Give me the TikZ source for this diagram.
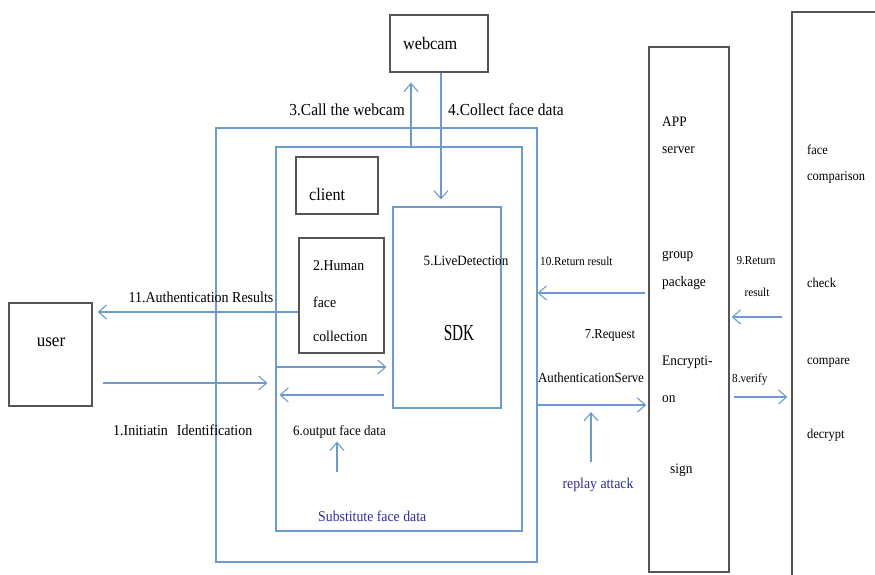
\documentclass[tikz,border=0pt]{standalone}
\usepackage{fontspec}
\setmainfont{Liberation Serif}[FakeStretch=0.92]
\usetikzlibrary{arrows.meta,calc}
\definecolor{lblue}{RGB}{110,155,205}
\definecolor{bgray}{RGB}{85,85,85}
\definecolor{tblue}{RGB}{45,45,165}
\newcommand{\fsz}[1]{\fontsize{#1}{#1}\selectfont}
\tikzset{
  gbox/.style={draw=bgray,line width=1.4pt,inner sep=0pt},
  bbox/.style={draw=lblue,line width=1.1pt,inner sep=0pt},
  arr/.style={draw=lblue,line width=1.1pt,-{Straight Barb[length=8pt,width=14pt]}},
  lbl/.style={inner sep=0pt,text=black,font=\fsz{16.8}},
  mid/.style={inner sep=0pt,text=black,font=\fsz{14.5}},
  sml/.style={inner sep=0pt,text=black,font=\fsz{12.2}},
  blu/.style={inner sep=0pt,text=tblue,font=\fsz{15}},
}
\begin{document}
\begin{tikzpicture}[x=1pt,y=-1pt]
\path[use as bounding box,clip] (0,0) rectangle (875,574);
\fill[white] (0,0) rectangle (875,574);
% boxes
\node[gbox,minimum width=98pt,minimum height=57pt] (webcam) at (439,43.5) {};
\node[bbox,minimum width=321pt,minimum height=434pt] (outer) at (376.5,345) {};
\node[bbox,minimum width=246pt,minimum height=384pt] (inner) at (399,339) {};
\node[gbox,minimum width=82pt,minimum height=57pt] (client) at (337,185.5) {};
\node[gbox,minimum width=85pt,minimum height=115pt] (hfc) at (341.5,295.5) {};
\node[bbox,minimum width=108pt,minimum height=201pt] (sdk) at (447,307.5) {};
\node[gbox,minimum width=83pt,minimum height=103pt] (user) at (50.5,354.5) {};
\node[gbox,minimum width=80pt,minimum height=525pt] (app) at (689,309.5) {};
\node[gbox,minimum width=100pt,minimum height=580pt] (fc) at (842,302) {};
% texts
\node[lbl,anchor=west,font=\fsz{17.6}] (twebcam) at (403,43) {webcam};
\node[lbl,anchor=east] (t3) at (405,110) {3.Call the webcam};
\node[lbl,anchor=west] (t4) at (448,110) {4.Collect face data};
\node[lbl,anchor=west,font=\fsz{17.6}] (tclient) at (309,194) {client};
\node[mid,anchor=west,font=\fsz{15}] (th1) at (313,266) {2.Human};
\node[mid,anchor=west,font=\fsz{15}] (th2) at (313,302) {face};
\node[mid,anchor=west,font=\fsz{15}] (th3) at (313,336) {collection};
\node[mid,font=\fsz{14.2}] (t5) at (466,261) {5.LiveDetection};
\node[inner sep=0pt,font=\fsz{23}] (tsdk) at (459,333) {\scalebox{0.72}[1]{SDK}};
\node[mid,anchor=west,font=\fsz{14.1}] (t6) at (293,432) {6.output face data};
\node[blu,anchor=west] (tsub) at (318,516) {Substitute face data};
\node[lbl,font=\fsz{18.5}] (tuser) at (51,342) {user};
\node[mid,font=\fsz{15.2}] (t11) at (201,297) {11.Authentication Results};
\node[mid,anchor=west,font=\fsz{15.2}] (t1) at (113,430) {1.Initiatin\hspace{9pt}Identification};
\node[sml,anchor=west] (t10) at (540,261) {10.Return result};
\node[mid,font=\fsz{13.7}] (t7a) at (610,335) {7.Request};
\node[mid,font=\fsz{14}] (t7b) at (591,378) {AuthenticationServe};
\node[blu,font=\fsz{15}] (treplay) at (598,485) {replay attack};
\node[mid,anchor=west] (tapp1) at (662,122) {APP};
\node[mid,anchor=west] (tapp2) at (662,150) {server};
\node[mid,anchor=west] (tapp3) at (662,256) {group};
\node[mid,anchor=west] (tapp4) at (662,283) {package};
\node[mid,anchor=west] (tapp5) at (662,362) {Encrypti-};
\node[mid,anchor=west] (tapp6) at (662,399) {on};
\node[mid,anchor=west] (tapp7) at (670,470) {sign};
\node[sml] (t9a) at (756,261) {9.Return};
\node[sml] (t9b) at (757,292) {result};
\node[sml,anchor=west] (t8) at (732,380) {8.verify};
\node[mid,anchor=west,font=\fsz{13.5}] (tfc1) at (807,150) {face};
\node[mid,anchor=west,font=\fsz{13.5}] (tfc2) at (807,177) {comparison};
\node[mid,anchor=west,font=\fsz{13.5}] (tfc3) at (807,283) {check};
\node[mid,anchor=west,font=\fsz{13.5}] (tfc4) at (807,363) {compare};
\node[mid,anchor=west,font=\fsz{13.5}] (tfc5) at (807,435) {decrypt};
% connectors
\draw[arr] (inner.north -| 411,0) -- ([yshift=-10pt]webcam.south -| 411,0);
\draw[arr] (webcam.south -| 441,0) -- ([yshift=7pt]sdk.north -| 441,0);
\draw[arr] (inner.west |- 0,367) -- ([xshift=-6pt]sdk.west |- 0,367);
\draw[arr] ([xshift=-8pt]sdk.west |- 0,395) -- ([xshift=4pt]inner.west |- 0,395);
\draw[arr] (hfc.west |- 0,312) -- ([xshift=5pt]user.east |- 0,312);
\draw[arr] ([xshift=10pt]user.east |- 0,383) -- ([xshift=-8pt]inner.west |- 0,383);
\draw[arr] ([xshift=-3pt]app.west |- 0,293) -- (outer.east |- 0,293);
\draw[arr] (outer.east |- 0,405) -- ([xshift=-2pt]app.west |- 0,405);
\coordinate (rtip) at (591,412);
\draw[arr] ([yshift=16pt]treplay.north -| rtip) -- (rtip);
\draw[arr] ([xshift=-9pt]fc.west |- 0,317) -- ([xshift=2pt]app.east |- 0,317);
\draw[arr] ([xshift=4pt]app.east |- 0,397) -- ([xshift=-4pt]fc.west |- 0,397);
\draw[arr] ([yshift=38pt]tsub.north -| 337,0) -- ([yshift=-3pt]t6.south -| 337,0);
\end{tikzpicture}
\end{document}
